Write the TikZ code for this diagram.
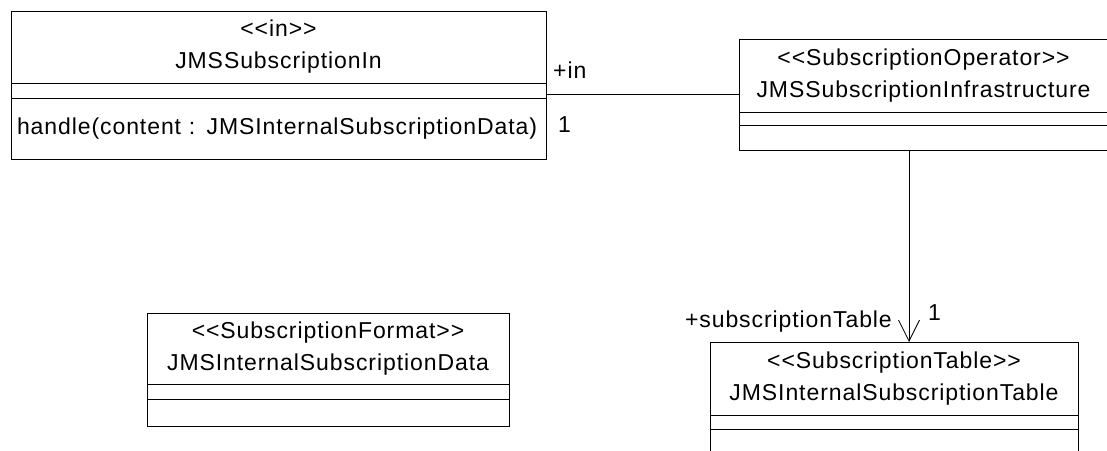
\documentclass[tikz,border=0pt]{standalone}
\usepackage{fontspec}
\setmainfont{Liberation Sans}[LetterSpace=4,Ligatures=TeXOff]
\usepackage{tikz}
\usetikzlibrary{positioning,arrows.meta}
\newcommand\umlfont{\fontsize{23pt}{32pt}\selectfont}

\begin{document}
\begin{tikzpicture}[x=1pt,y=-1pt,
  node distance=0pt,
  classhead/.style={draw=black,line width=.9pt,font=\umlfont,align=center,
    inner sep=0pt,outer sep=0pt,anchor=north west},
  classpart/.style={draw=black,line width=.9pt,font=\umlfont,inner sep=0pt,outer sep=0pt},
  assoc/.style={draw=black,line width=.8pt},
  navarrow/.style={assoc,-{Straight Barb[length=21pt,width=21pt]}},
  role/.style={font=\umlfont,inner sep=0pt}
]
\useasboundingbox (0,0) rectangle (1107,450);
\clip (0,0) rectangle (1107,450);

% JMSSubscriptionIn
\node[classhead,minimum width=535pt,minimum height=72pt] (inname) at (11,11)
  {<<in>>\\JMSSubscriptionIn};
\node[classpart,below=of inname,minimum width=535pt,minimum height=15pt] (inattr) {};
\node[classpart,below=of inattr,minimum width=535pt,minimum height=61pt,
  text width=523pt,align=left] (inops) {handle(content : JMSInternalSubscriptionData)};

% JMSSubscriptionInfrastructure
\node[classhead,minimum width=369pt,minimum height=73pt] (infraname) at (739,39)
  {<<SubscriptionOperator>>\\JMSSubscriptionInfrastructure};
\node[classpart,below=of infraname,minimum width=369pt,minimum height=13pt] (infraattr) {};
\node[classpart,below=of infraattr,minimum width=369pt,minimum height=25pt] (infraops) {};

% JMSInternalSubscriptionData
\node[classhead,minimum width=362pt,minimum height=71pt] (dataname) at (147,313)
  {<<SubscriptionFormat>>\\JMSInternalSubscriptionData};
\node[classpart,below=of dataname,minimum width=362pt,minimum height=15pt] (dataattr) {};
\node[classpart,below=of dataattr,minimum width=362pt,minimum height=27pt] (dataops) {};

% JMSInternalSubscriptionTable
\node[classhead,minimum width=368pt,minimum height=73pt] (tablename) at (710,342)
  {<<SubscriptionTable>>\\JMSInternalSubscriptionTable};
\node[classpart,below=of tablename,minimum width=368pt,minimum height=14pt] (tableattr) {};
\node[classpart,below=of tableattr,minimum width=368pt,minimum height=40pt] (tableops) {};

% associations
\draw[assoc] ([yshift=-11pt]inname.south east) -- ([yshift=-11pt]inname.south east -| infraname.west);
\draw[navarrow] ([xshift=-14.5pt]infraops.south) -- ([xshift=-14.5pt]infraops.south |- tablename.north);

\node[role,anchor=west] (inrole) at (553,70) {+in};
\node[role,anchor=west] (inmult) at (558,125) {1};
\node[role,anchor=east] (tablerole) at (892,322) {+subscriptionTable};
\node[role,anchor=west] (tablemult) at (928,313) {1};
\end{tikzpicture}
\end{document}
